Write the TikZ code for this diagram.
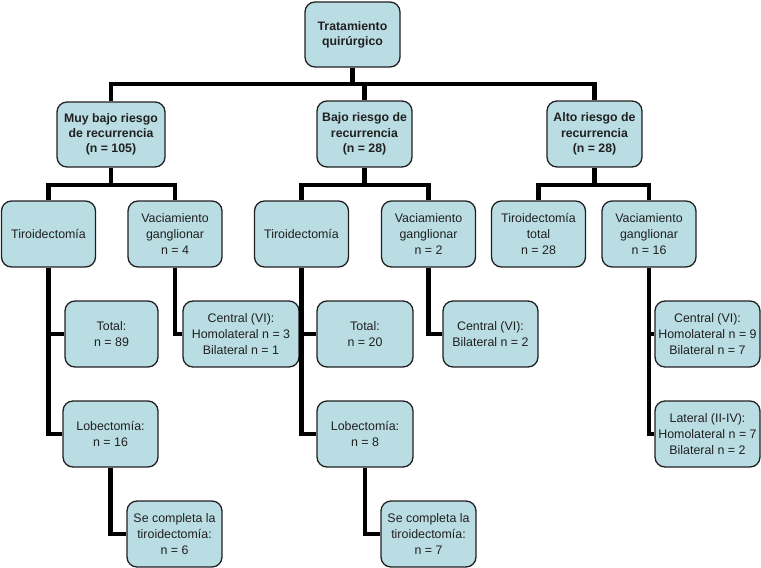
\documentclass[tikz,border=0pt]{standalone}
\usepackage{fontspec}
\setmainfont{Liberation Sans}
\definecolor{boxfill}{HTML}{BADDE3}
\definecolor{ink}{HTML}{202020}
\tikzset{
  box/.style={draw=ink, line width=1.3pt, fill=boxfill, rounded corners=10pt, inner sep=0pt,
    align=center, text=ink, font=\fontsize{12.4}{15.8}\selectfont},
  hdr/.style={box, font=\fontsize{12.3}{15.2}\selectfont\bfseries},
  link/.style={line width=4.8pt, black},
}
\begin{document}
\begin{tikzpicture}[x=1pt,y=-1pt]
\useasboundingbox (0,0) rectangle (761,568);
% level 1
\node[hdr, minimum width=95pt, minimum height=65pt] (trat) at (352.5,34.5) {Tratamiento\\quirúrgico};
% level 2
\node[hdr, minimum width=108pt, minimum height=65pt] (muy) at (111,134.5) {Muy bajo riesgo\\de recurrencia\\(n = 105)};
\node[hdr, minimum width=95pt, minimum height=66pt] (bajo) at (364.5,134) {Bajo riesgo de\\recurrencia\\(n = 28)};
\node[hdr, minimum width=95pt, minimum height=66pt] (alto) at (594.5,134) {Alto riesgo de\\recurrencia\\(n = 28)};
% level 3
\node[box, minimum width=94pt, minimum height=66pt] (tiroA) at (48.5,234) {Tiroidectomía};
\node[box, minimum width=94pt, minimum height=66pt] (vacA) at (175,234) {Vaciamiento\\ganglionar\\n = 4};
\node[box, minimum width=94pt, minimum height=66pt] (tiroB) at (301.5,234) {Tiroidectomía};
\node[box, minimum width=94pt, minimum height=66pt] (vacB) at (428.5,234) {Vaciamiento\\ganglionar\\n = 2};
\node[box, minimum width=94pt, minimum height=66pt] (tiroC) at (538.5,234) {Tiroidectomía\\total\\n = 28};
\node[box, minimum width=94pt, minimum height=66pt] (vacC) at (649,234) {Vaciamiento\\ganglionar\\n = 16};
% level 4
\node[box, minimum width=93pt, minimum height=66pt] (totA) at (111.5,334) {Total:\\n = 89};
\node[box, minimum width=116pt, minimum height=66pt] (cenA) at (241,334) {Central (VI):\\Homolateral n = 3\\Bilateral n = 1};
\node[box, minimum width=96pt, minimum height=66pt] (totB) at (365,334) {Total:\\n = 20};
\node[box, minimum width=95pt, minimum height=66pt] (cenB) at (490.5,334) {Central (VI):\\Bilateral n = 2};
\node[box, minimum width=105pt, minimum height=66pt] (cenC) at (707.5,334) {Central (VI):\\Homolateral n = 9\\Bilateral n = 7};
% level 5
\node[box, minimum width=95pt, minimum height=66pt] (lobA) at (110.5,434) {Lobectomía:\\n = 16};
\node[box, minimum width=96pt, minimum height=66pt] (lobB) at (365,434) {Lobectomía:\\n = 8};
\node[box, minimum width=105pt, minimum height=66pt] (latC) at (707.5,434) {Lateral (II-IV):\\Homolateral n = 7\\Bilateral n = 2};
% level 6
\node[box, minimum width=95pt, minimum height=66pt] (seA) at (174.5,534) {Se completa la\\tiroidectomía:\\n = 6};
\node[box, minimum width=95pt, minimum height=66pt] (seB) at (428.5,534) {Se completa la\\tiroidectomía:\\n = 7};
% bus points
\coordinate (b0) at (352.5,84);
\coordinate (b1) at (111,185);
\coordinate (b2) at (364.5,185);
\coordinate (b3) at (594.5,185);
% connectors
\draw[link] (trat.south) -- (b0);
\draw[link] (muy.north) |- (b0) -| (alto.north);
\draw[link] (bajo.north) |- (b0);
\draw[link] (muy.south) -- (b1);
\draw[link] (tiroA.north) |- (b1) -| (vacA.north);
\draw[link] (bajo.south) -- (b2);
\draw[link] (tiroB.north) |- (b2) -| (vacB.north);
\draw[link] (alto.south) -- (b3);
\draw[link] (tiroC.north) |- (b3) -| (vacC.north);
\draw[link] (tiroA.south) |- (lobA.west);
\draw[link] (tiroA.south |- totA.west) -- (totA.west);
\draw[link] (vacA.south) |- (cenA.west);
\draw[link] (lobA.south) |- (seA.west);
\draw[link] (tiroB.south) |- (lobB.west);
\draw[link] (tiroB.south |- totB.west) -- (totB.west);
\draw[link] (vacB.south) |- (cenB.west);
\draw[link] (lobB.south) |- (seB.west);
\draw[link] (vacC.south) |- (latC.west);
\draw[link] (vacC.south |- cenC.west) -- (cenC.west);
\end{tikzpicture}
\end{document}
